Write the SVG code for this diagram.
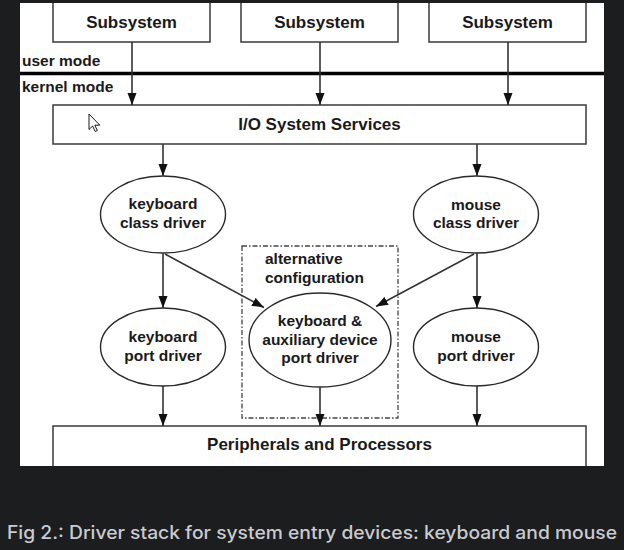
<svg xmlns="http://www.w3.org/2000/svg" width="624" height="550" viewBox="0 0 624 550">
  <style>
    .box { fill: #ffffff; stroke: #3a3a3a; stroke-width: 1.5; }
    .ell { fill: #ffffff; stroke: #2a2a2a; stroke-width: 1.4; }
    .lbl { font-family: "Liberation Sans", Arial, sans-serif; font-weight: bold; fill: #1a1a1a; text-anchor: middle; }
    .big { font-size: 17px; }
    .mid { font-size: 15.5px; }
    .side { font-family: "Liberation Sans", Arial, sans-serif; font-weight: bold; font-size: 15.5px; fill: #1a1a1a; }
    .conn { stroke: #333333; stroke-width: 1.6; fill: none; marker-end: url(#ah); }
    .caption { font-family: Inter, "Open Sans", sans-serif; font-size: 18px; font-weight: 500; fill: #c9cbcf; }
  </style>
  <defs>
    <marker id="ah" viewBox="0 0 12 10" refX="12" refY="5" markerWidth="12" markerHeight="10" markerUnits="userSpaceOnUse" orient="auto">
      <path d="M0,0.5 L12,5 L0,9.5 Z" fill="#111111"/>
    </marker>
    <clipPath id="panel">
      <rect x="20" y="3" width="584" height="463"/>
    </clipPath>
  </defs>

  <rect x="0" y="0" width="624" height="550" fill="#1c1d1f"/>
  <rect x="20" y="3" width="584" height="463" fill="#ffffff"/>

  <g clip-path="url(#panel)">
    <g id="subsystem1">
      <rect class="box" x="53" y="-5" width="157" height="47"/>
      <text class="lbl big" x="131.5" y="28">Subsystem</text>
    </g>
    <g id="subsystem2">
      <rect class="box" x="241" y="-5" width="157" height="47"/>
      <text class="lbl big" x="319.5" y="28">Subsystem</text>
    </g>
    <g id="subsystem3">
      <rect class="box" x="429" y="-5" width="157" height="47"/>
      <text class="lbl big" x="507.5" y="28">Subsystem</text>
    </g>

    <g id="mode-separator">
      <line x1="20" y1="73.5" x2="604" y2="73.5" stroke="#000000" stroke-width="3.5"/>
      <text class="side" x="22" y="66">user mode</text>
      <text class="side" x="22" y="92">kernel mode</text>
    </g>

    <g id="io-system-services">
      <rect class="box" x="53" y="105" width="533" height="39"/>
      <text class="lbl big" x="319.5" y="130">I/O System Services</text>
    </g>

    <g id="keyboard-class-driver">
      <ellipse class="ell" cx="163" cy="214.5" rx="62.5" ry="38.5"/>
      <text class="lbl mid" x="163" y="209">keyboard</text>
      <text class="lbl mid" x="163" y="228">class driver</text>
    </g>
    <g id="mouse-class-driver">
      <ellipse class="ell" cx="476" cy="214.5" rx="62.5" ry="38.5"/>
      <text class="lbl mid" x="476" y="210">mouse</text>
      <text class="lbl mid" x="476" y="228">class driver</text>
    </g>

    <g id="alternative-configuration">
      <rect x="242" y="246" width="156" height="172" fill="none" stroke="#444444" stroke-width="1.3" stroke-dasharray="5 2 1.5 2"/>
      <text class="side" x="265" y="264">alternative</text>
      <text class="side" x="265" y="283">configuration</text>
    </g>

    <g id="keyboard-port-driver">
      <ellipse class="ell" cx="163" cy="347" rx="62.5" ry="39"/>
      <text class="lbl mid" x="163" y="342">keyboard</text>
      <text class="lbl mid" x="163" y="361">port driver</text>
    </g>
    <g id="keyboard-aux-port-driver">
      <ellipse class="ell" cx="320" cy="340" rx="71" ry="47"/>
      <text class="lbl mid" x="320" y="326">keyboard &amp;</text>
      <text class="lbl mid" x="320" y="344.5">auxiliary device</text>
      <text class="lbl mid" x="320" y="363">port driver</text>
    </g>
    <g id="mouse-port-driver">
      <ellipse class="ell" cx="476" cy="347" rx="62.5" ry="39"/>
      <text class="lbl mid" x="476" y="342">mouse</text>
      <text class="lbl mid" x="476" y="361">port driver</text>
    </g>

    <g id="peripherals-and-processors">
      <rect class="box" x="53" y="426" width="533" height="60"/>
      <text class="lbl big" x="319.5" y="450">Peripherals and Processors</text>
    </g>

    <g id="connectors">
      <line class="conn" x1="132" y1="42" x2="132" y2="105"/>
      <line class="conn" x1="320" y1="42" x2="320" y2="105"/>
      <line class="conn" x1="508" y1="42" x2="508" y2="105"/>
      <line class="conn" x1="163" y1="144" x2="163" y2="176"/>
      <line class="conn" x1="477" y1="144" x2="477" y2="176"/>
      <line class="conn" x1="163" y1="253" x2="163" y2="308"/>
      <line class="conn" x1="477" y1="253" x2="477" y2="308"/>
      <line class="conn" x1="165" y1="254" x2="264" y2="307.5"/>
      <line class="conn" x1="474" y1="254" x2="376" y2="306.5"/>
      <line class="conn" x1="163" y1="386" x2="163" y2="426"/>
      <line class="conn" x1="320" y1="387" x2="320" y2="426"/>
      <line class="conn" x1="477" y1="386" x2="477" y2="426"/>
    </g>

    <g id="cursor">
      <path d="M89,114 L89,129.5 L92.6,126 L95.2,131.5 L97.3,130.5 L94.8,125.2 L99.8,125.2 Z" fill="#ffffff" stroke="#000000" stroke-width="0.9" stroke-linejoin="round"/>
    </g>
  </g>

  <text class="caption" x="7" y="539" textLength="610" lengthAdjust="spacingAndGlyphs">Fig 2.: Driver stack for system entry devices: keyboard and mouse</text>
</svg>
